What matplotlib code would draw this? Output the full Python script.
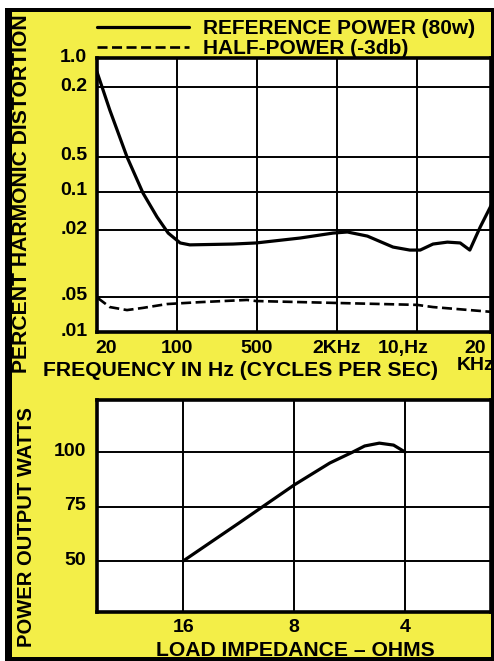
import numpy as np
import matplotlib.pyplot as plt
from matplotlib.patches import Rectangle
from matplotlib.transforms import ScaledTranslation

plt.rcParams['font.family'] = ['Liberation Sans', 'DejaVu Sans']
plt.rcParams['font.weight'] = 'bold'

YELLOW = '#f3ee48'

# top chart: frequency slots are evenly spaced (20, 100, 500, 2K, 10K, 20K)
# the distortion axis is not a real scale, so y is height (0-100) on the printed grid
freq_tick_pos = [0.12, 1, 2, 3, 3.83, 4.73]
freq_tick_labels = ['20', '100', '500', '2KHz', '10,Hz', '20\nKHz']
freq_grid = [1, 2, 3, 4]
thd_tick_pos = [0, 12.8, 37.2, 51.1, 63.9, 89.4, 100]
thd_tick_labels = ['.01', '.05', '.02', '0.1', '0.5', '0.2', '1.0']
thd_grid = [12.8, 37.2, 51.1, 63.9, 89.4]

# reference power (80w)
ref_x = [0.0, 0.16, 0.375, 0.575, 0.75, 0.89, 1.04, 1.16, 1.70, 1.99, 2.54,
         2.95, 3.13, 3.38, 3.70, 3.91, 4.04, 4.20, 4.38, 4.54, 4.66, 4.79, 4.93]
ref_y = [94.9, 81.0, 63.9, 50.7, 42.0, 36.1, 32.5, 31.8, 32.1, 32.5, 34.3,
         36.1, 36.5, 35.0, 31.0, 29.9, 29.9, 32.1, 32.8, 32.5, 29.9, 38.3, 46.4]

# half power (-3db)
half_x = [0.01, 0.16, 0.375, 0.575, 0.875, 1.29, 1.875, 1.99, 2.99, 4.0, 4.2, 4.95]
half_y = [12.4, 9.1, 8.0, 8.8, 10.2, 10.9, 11.7, 11.3, 10.6, 9.9, 9.1, 7.3]

# bottom chart: power vs load
load_ohms = [16, 11.3, 8, 6.4, 5.55, 5.15, 4.7, 4.3, 4.0]
load_watts = [50, 67.4, 84.9, 95.0, 100, 102.8, 104.1, 103.2, 100]
ohm_ticks = [16, 8, 4]
watt_ticks = [50, 75, 100]

W, H = 494, 661


def fx(px):
    return px / W


def fy(py):
    return 1 - py / H


fig = plt.figure(figsize=(W / 100, H / 100), dpi=100)
fig.patch.set_facecolor('white')
# black frame with yellow card inside
fig.patches.append(Rectangle((fx(5), fy(661)), fx(489), 653 / H, transform=fig.transFigure,
                             facecolor='black', edgecolor='none', zorder=-2))
fig.patches.append(Rectangle((fx(12), fy(657)), fx(479), 645 / H, transform=fig.transFigure,
                             facecolor=YELLOW, edgecolor='none', zorder=-1))

ax1 = fig.add_axes([fx(97), fy(332), fx(394), 274 / H])
ax2 = fig.add_axes([fx(97), fy(612), fx(394), 212 / H])

for ax in (ax1, ax2):
    ax.set_facecolor('white')
    for s in ax.spines.values():
        s.set_linewidth(2.6)
        s.set_color('black')
    ax.tick_params(which='both', length=0, labelsize=14)

# --- distortion vs frequency ---
l1, = ax1.plot(ref_x, ref_y, color='black', lw=2.3, solid_capstyle='round', zorder=3)
l2, = ax1.plot(half_x, half_y, color='black', lw=1.9, ls=(0, (3.8, 1.7)), zorder=3)
ax1.set_xlim(0, 4.925)
ax1.set_ylim(0, 100)
ax1.xaxis.remove_overlapping_locs = False
ax1.yaxis.remove_overlapping_locs = False
ax1.set_xticks(freq_tick_pos, freq_tick_labels, fontweight='bold', linespacing=0.95)
ax1.set_xticks(freq_grid, minor=True)
ax1.set_yticks(thd_tick_pos, thd_tick_labels, fontweight='bold')
ax1.set_yticks(thd_grid, minor=True)
ax1.grid(which='minor', color='black', lw=1.4)
ax1.tick_params(axis='y', pad=7)
ax1.tick_params(axis='x', pad=6)
up = ScaledTranslation(0, 3 / 100, fig.dpi_scale_trans)
for lbl in ax1.get_yticklabels():
    lbl.set_transform(lbl.get_transform() + up)

fig.legend([l1, l2], ['REFERENCE POWER (80w)', 'HALF-POWER (-3db)'],
           loc='upper left', bbox_to_anchor=(fx(97), fy(19)), frameon=False,
           prop={'weight': 'bold', 'size': 15}, handlelength=4.4, handletextpad=0.7,
           labelspacing=0.06, borderpad=0, borderaxespad=0)

fig.text(fx(240), fy(370), 'FREQUENCY IN Hz (CYCLES PER SEC)', ha='center', va='center',
         fontsize=15.2, fontweight='bold')
fig.text(fx(22), fy(194), 'PERCENT HARMONIC DISTORTION', rotation=90, ha='center',
         va='center', fontsize=15.2, fontweight='bold')

# --- power output vs load impedance ---
ax2.plot(load_ohms, load_watts, color='black', lw=2.3, solid_capstyle='round', zorder=3)
ax2.set_xscale('log', base=2)
ax2.set_xlim(27.4, 2.34)
ax2.set_ylim(26.6, 123.9)
ax2.set_xticks(ohm_ticks, [str(v) for v in ohm_ticks], fontweight='bold')
ax2.xaxis.set_minor_locator(plt.NullLocator())
ax2.set_yticks(watt_ticks, [str(v) for v in watt_ticks], fontweight='bold')
ax2.grid(which='major', color='black', lw=1.4)
ax2.tick_params(axis='y', pad=8)
ax2.tick_params(axis='x', pad=5)
for lbl in ax2.get_yticklabels():
    lbl.set_transform(lbl.get_transform() + up)

fig.text(fx(295), fy(650), 'LOAD IMPEDANCE – OHMS', ha='center', va='center',
         fontsize=15.2, fontweight='bold')
fig.text(fx(27), fy(527), 'POWER OUTPUT WATTS', rotation=90, ha='center', va='center',
         fontsize=14.5, fontweight='bold')

fig.savefig('out.png', dpi=100, facecolor=fig.get_facecolor())
